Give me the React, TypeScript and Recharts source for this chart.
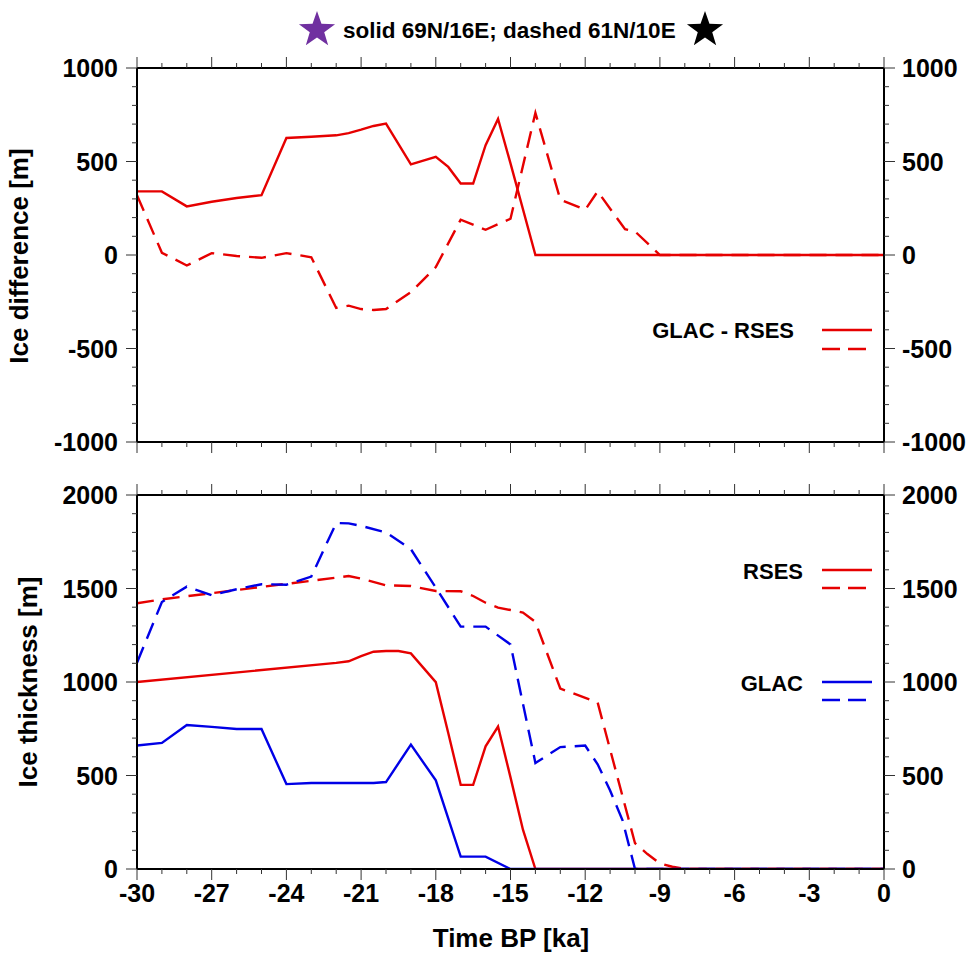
import { Line, LineChart, XAxis, YAxis } from 'recharts';

// time axis (ka BP)
const timeTicks = [-30, -29, -28, -27, -26, -25, -24, -23, -22, -21, -20, -19, -18, -17, -16, -15, -14, -13, -12, -11, -10, -9, -8, -7, -6, -5, -4, -3, -2, -1, 0];
const timeMajor = [-30, -27, -24, -21, -18, -15, -12, -9, -6, -3, 0];

const diffTicks = [-1000, -900, -800, -700, -600, -500, -400, -300, -200, -100, 0, 100, 200, 300, 400, 500, 600, 700, 800, 900, 1000];
const diffMajor = [-1000, -500, 0, 500, 1000];
const thickTicks = [0, 100, 200, 300, 400, 500, 600, 700, 800, 900, 1000, 1100, 1200, 1300, 1400, 1500, 1600, 1700, 1800, 1900, 2000];
const thickMajor = [0, 500, 1000, 1500, 2000];

// top panel: ice difference, solid = 69N/16E, dashed = 61N/10E
const diffSolidT = [-30, -29, -28, -27, -26, -25, -24, -23, -22, -21.5, -21, -20.5, -20, -19, -18, -17.5, -17, -16.5, -16, -15.5, -15, -14, 0];
const diffSolidV = [340, 340, 260, 285, 305, 320, 626, 632, 640, 652, 670, 690, 703, 485, 525, 471, 382, 382, 587, 728, 490, 0, 0];
const diffDashT = [-30, -29, -28, -27, -26, -25, -24, -23, -22, -21.5, -21, -20.5, -20, -19, -18, -17, -16, -15, -14, -13, -12, -11.5, -10.4, -10, -9, 0];
const diffDashV = [320, 12, -56, 10, -5, -15, 10, -12, -283, -271, -289, -294, -289, -199, -65, 189, 135, 194, 760, 296, 242, 340, 138, 126, 0, 0];

// bottom panel: ice thickness
const rsesSolidT = [-30, -22, -21.5, -21, -20.5, -20, -19.5, -19, -18, -17.5, -17, -16.5, -16, -15.5, -15, -14.5, -14, 0];
const rsesSolidV = [1000, 1102, 1111, 1138, 1162, 1166, 1166, 1153, 999, 727, 450, 450, 656, 762, 490, 210, 0, 0];
const glacSolidT = [-30, -29, -28, -27, -26, -25, -24, -23, -20.5, -20, -19, -18, -17, -16, -15, 0];
const glacSolidV = [660, 674, 770, 760, 749, 749, 454, 460, 460, 465, 665, 474, 66, 66, 0, 0];
const rsesDashT = [-30, -29, -22, -21.5, -21, -20, -19, -18, -17, -16.5, -16, -15.5, -15, -14.5, -14, -13, -11.5, -10, -9.5, -9, -8.5, -8, 0];
const rsesDashV = [1421, 1442, 1558, 1567, 1553, 1517, 1513, 1487, 1485, 1460, 1424, 1398, 1385, 1371, 1321, 965, 890, 138, 80, 30, 12, 0, 0];
const glacDashT = [-30, -29, -28.5, -28, -27, -26, -25, -24, -23, -22, -21.5, -21, -20, -19, -18, -17, -16, -15, -14, -13, -12, -11.5, -11, -10.5, -10, 0];
const glacDashV = [1103, 1428, 1469, 1510, 1464, 1496, 1523, 1520, 1564, 1850, 1848, 1835, 1800, 1710, 1505, 1296, 1296, 1201, 567, 652, 660, 560, 420, 260, 0, 0];

const pts = (t: number[], v: number[]) => t.map((tt, i) => ({ t: tt, v: v[i] }));

const RED = '#e60000';
const BLUE = '#0000e6';
const DASH = '17 9';
const LW = 2.4;
const FONT = '"Liberation Sans", Arial, Helvetica, sans-serif';
const frame = { stroke: '#000', strokeWidth: 2 };

type Side = 'left' | 'right' | 'top' | 'bottom';

const makeTick = (side: Side, majors: number[], labels: boolean) => (props: any) => {
  const { x, y, payload } = props;
  const v = payload.value as number;
  const major = majors.includes(v);
  const len = major ? 11 : 5;
  const txt = { fontSize: 25, fontWeight: 'bold' as const, fontFamily: FONT, fill: '#000' };
  let ln = null;
  let label = null;
  if (side === 'left') {
    ln = <line x1={x} x2={x - len} y1={y} y2={y} />;
    if (labels && major) label = <text x={x - 19} y={y} dy="0.36em" textAnchor="end" {...txt}>{v}</text>;
  } else if (side === 'right') {
    ln = <line x1={x} x2={x + len} y1={y} y2={y} />;
    if (labels && major) label = <text x={x + 18} y={y} dy="0.36em" textAnchor="start" {...txt}>{v}</text>;
  } else if (side === 'top') {
    ln = <line x1={x} x2={x} y1={y} y2={y - len} />;
  } else {
    ln = <line x1={x} x2={x} y1={y} y2={y + len} />;
    if (labels && major) label = <text x={x} y={y + 33} textAnchor="middle" {...txt}>{v}</text>;
  }
  return (
    <g>
      <g stroke="#333" strokeWidth={1}>{ln}</g>
      {label}
    </g>
  );
};

const axisCommon = {
  tickSize: 0,
  tickMargin: 0,
  tickLine: false,
  axisLine: frame,
  interval: 0 as const,
  allowDataOverflow: true,
};

const star = (cx: number, cy: number, r: number) => {
  const p: string[] = [];
  for (let i = 0; i < 10; i++) {
    const a = -Math.PI / 2 + (i * Math.PI) / 5;
    const rr = i % 2 === 0 ? r : r * 0.4;
    p.push(`${cx + rr * Math.cos(a)},${cy + rr * Math.sin(a)}`);
  }
  return p.join(' ');
};

const legendText = { fontSize: 22, fontWeight: 'bold' as const, fontFamily: FONT, fill: '#000' };
const titleText = { fontSize: 26, fontWeight: 'bold' as const, fontFamily: FONT, fill: '#000' };

export default function App() {
  return (
    <div style={{ position: 'absolute', left: 0, top: 0, width: 971, height: 957, background: '#fff' }}>
      <div style={{ position: 'absolute', left: 0, top: 0 }}>
        <LineChart width={971} height={468} margin={{ top: 0, right: 0, bottom: 0, left: 0 }}>
          <XAxis xAxisId="b" dataKey="t" type="number" domain={[-30, 0]} ticks={timeTicks} height={26} tick={makeTick('bottom', timeMajor, false)} {...axisCommon} />
          <XAxis xAxisId="t" orientation="top" dataKey="t" type="number" domain={[-30, 0]} ticks={timeTicks} height={68} tick={makeTick('top', timeMajor, false)} {...axisCommon} />
          <YAxis yAxisId="l" type="number" domain={[-1000, 1000]} ticks={diffTicks} width={137} tick={makeTick('left', diffMajor, true)} {...axisCommon} />
          <YAxis yAxisId="r" orientation="right" type="number" domain={[-1000, 1000]} ticks={diffTicks} width={87} tick={makeTick('right', diffMajor, true)} {...axisCommon} />
          <Line xAxisId="b" yAxisId="l" data={pts(diffSolidT, diffSolidV)} dataKey="v" type="linear" stroke={RED} strokeWidth={LW} dot={false} isAnimationActive={false} />
          <Line xAxisId="b" yAxisId="l" data={pts(diffDashT, diffDashV)} dataKey="v" type="linear" stroke={RED} strokeWidth={LW} strokeDasharray={DASH} dot={false} isAnimationActive={false} />
        </LineChart>
      </div>
      <div style={{ position: 'absolute', left: 0, top: 468 }}>
        <LineChart width={971} height={489} margin={{ top: 0, right: 0, bottom: 0, left: 0 }}>
          <XAxis xAxisId="b" dataKey="t" type="number" domain={[-30, 0]} ticks={timeTicks} height={88} tick={makeTick('bottom', timeMajor, true)} {...axisCommon} />
          <XAxis xAxisId="t" orientation="top" dataKey="t" type="number" domain={[-30, 0]} ticks={timeTicks} height={27} tick={makeTick('top', timeMajor, false)} {...axisCommon} />
          <YAxis yAxisId="l" type="number" domain={[0, 2000]} ticks={thickTicks} width={137} tick={makeTick('left', thickMajor, true)} {...axisCommon} />
          <YAxis yAxisId="r" orientation="right" type="number" domain={[0, 2000]} ticks={thickTicks} width={87} tick={makeTick('right', thickMajor, true)} {...axisCommon} />
          <Line xAxisId="b" yAxisId="l" data={pts(rsesSolidT, rsesSolidV)} dataKey="v" type="linear" stroke={RED} strokeWidth={LW} dot={false} isAnimationActive={false} />
          <Line xAxisId="b" yAxisId="l" data={pts(glacSolidT, glacSolidV)} dataKey="v" type="linear" stroke={BLUE} strokeWidth={LW} dot={false} isAnimationActive={false} />
          <Line xAxisId="b" yAxisId="l" data={pts(rsesDashT, rsesDashV)} dataKey="v" type="linear" stroke={RED} strokeWidth={LW} strokeDasharray={DASH} dot={false} isAnimationActive={false} />
          <Line xAxisId="b" yAxisId="l" data={pts(glacDashT, glacDashV)} dataKey="v" type="linear" stroke={BLUE} strokeWidth={LW} strokeDasharray={DASH} dot={false} isAnimationActive={false} />
        </LineChart>
      </div>
      <svg width={971} height={957} style={{ position: 'absolute', left: 0, top: 0, pointerEvents: 'none' }}>
        {/* title */}
        <polygon points={star(317, 30, 19)} fill="#7030a0" />
        <text x={343} y={38} fontSize={22.5} fontWeight="bold" fontFamily={FONT}>solid 69N/16E; dashed 61N/10E</text>
        <polygon points={star(705, 30, 19)} fill="#000" />
        {/* axis titles */}
        <text transform="translate(28,256) rotate(-90)" textAnchor="middle" {...titleText}>Ice difference [m]</text>
        <text transform="translate(37,682) rotate(-90)" textAnchor="middle" {...titleText}>Ice thickness [m]</text>
        <text x={511} y={947} textAnchor="middle" {...titleText}>Time BP [ka]</text>
        {/* legends */}
        <text x={794} y={338} textAnchor="end" {...legendText}>GLAC - RSES</text>
        <line x1={822} x2={872} y1={330} y2={330} stroke={RED} strokeWidth={LW} />
        <line x1={822} x2={866} y1={349} y2={349} stroke={RED} strokeWidth={LW} strokeDasharray="18 8" />
        <text x={803} y={579} textAnchor="end" {...legendText}>RSES</text>
        <line x1={822} x2={872} y1={570} y2={570} stroke={RED} strokeWidth={LW} />
        <line x1={822} x2={866} y1={588} y2={588} stroke={RED} strokeWidth={LW} strokeDasharray="18 8" />
        <text x={803} y={691} textAnchor="end" {...legendText}>GLAC</text>
        <line x1={822} x2={872} y1={682} y2={682} stroke={BLUE} strokeWidth={LW} />
        <line x1={822} x2={866} y1={700} y2={700} stroke={BLUE} strokeWidth={LW} strokeDasharray="18 8" />
      </svg>
    </div>
  );
}
